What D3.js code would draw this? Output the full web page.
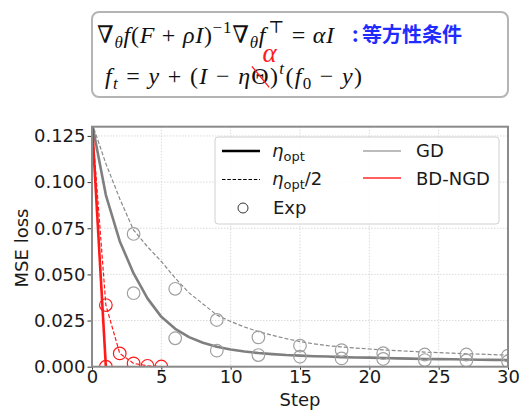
<!DOCTYPE html>
<html><head><meta charset="utf-8">
<script src="https://cdn.jsdelivr.net/npm/d3@7"></script>
<style>html,body{margin:0;padding:0;background:#fff;}svg{display:block;}</style>
</head><body>
<svg id="c" width="521" height="410"></svg>
<script>
// ---------- data ----------
const stepsGD = [0,1,2,3,4,5,6,7,8,9,10,11,12,13,14,15,16,17,18,19,20,21,22,23,24,25,26,27,28,29,30];
const gdEta   = [0.132,0.093,0.068,0.0505,0.037,0.027,0.0205,0.016,0.0130,0.0108,0.0093,0.0082,0.0074,0.0068,0.0063,0.0060,0.0057,0.0055,0.0052,0.0050,0.0049,0.0047,0.0045,0.0044,0.0042,0.0041,0.0040,0.0039,0.0038,0.0037,0.0036];
const gdHalf  = [0.132,0.110,0.091,0.074,0.065,0.057,0.048,0.040,0.034,0.028,0.0245,0.0215,0.019,0.017,0.0152,0.0136,0.0124,0.0114,0.0107,0.0101,0.0096,0.0091,0.0087,0.0083,0.0079,0.0076,0.0073,0.0070,0.0068,0.0065,0.0063];
const expSteps   = [3,6,9,12,15,18,21,24,27,30];
const expGdEta   = [0.0398,0.0154,0.0087,0.0063,0.0054,0.0045,0.0042,0.0036,0.0034,0.0029];
const expGdHalf  = [0.0719,0.0422,0.0253,0.0159,0.0114,0.0090,0.0073,0.0066,0.0066,0.0060];
const ngdEtaSteps  = [0,1];
const ngdEta       = [0.132,0];
const ngdHalfSteps = [0,1,2,3,4,5];
const ngdHalf      = [0.132,0.0334,0.0072,0.0018,0.0005,0.0001];
const expNgdEtaSteps  = [1];
const expNgdEta       = [0];
const expNgdHalfSteps = [1,2,3,4,5];
const expNgdHalf      = [0.0334,0.0072,0.0018,0.0005,0.0001];
const xTicks = [0,5,10,15,20,25,30];
const yTicks = [0,0.025,0.05,0.075,0.1,0.125];
const yTickLabels = ["0.000","0.025","0.050","0.075","0.100","0.125"];
const xLabel = "Step", yLabel = "MSE loss";
const noteText = "等方性条件";

// ---------- layout ----------
const svg = d3.select("#c");
const L = 92, R = 508, T = 126.7, B = 366.7;
const x = d3.scaleLinear().domain([0,30]).range([L,R]);
const y = d3.scaleLinear().domain([0,0.13]).range([B,T]);
const FONT = "'DejaVu Sans', sans-serif";
const GRAY = "#7f7f7f", RED = "#ff1a1a";

svg.append("defs").append("clipPath").attr("id","clip")
  .append("rect").attr("x",L).attr("y",T).attr("width",R-L).attr("height",B-T);

// ---------- formula box ----------
svg.append("rect").attr("x",92).attr("y",12).attr("width",416).attr("height",85)
  .attr("rx",7).attr("fill","#fff").attr("stroke","#b4b4b4").attr("stroke-width",2);

const MF = "'Liberation Serif', 'DejaVu Serif', serif";
function mathRow(items, x0, base, width){
  const t = svg.append("text").attr("x",x0).attr("y",base).attr("font-family",MF).attr("fill","#111");
  let cur = 0;
  items.forEach(([s,kind,it,dx])=>{
    const target = kind==="sub" ? 5 : kind==="sup" ? -10 : 0;
    const sp = t.append("tspan").attr("dy", target-cur).attr("font-size", kind==="n" ? 24 : 17)
      .attr("font-style", it ? "italic" : "normal").text(s);
    if(dx) sp.attr("dx",dx);
    cur = target;
  });
  t.attr("textLength", width).attr("lengthAdjust","spacing");
  return t;
}
mathRow([
  ["∇","n",0],["θ","sub",1],["f","n",1],["(","n",0],["F","n",1],[" + ","n",0],["ρ","n",1],["I","n",1],
  [")","n",0],["−1","sup",0],["∇","n",0],["θ","sub",1],["f","n",1],["⊤","sup",0,2],[" = ","n",0],
  ["α","n",1],["I","n",1]
], 97, 43, 237);
const blue = svg.append("text").attr("x",352).attr("y",42).attr("font-family","'Noto Sans CJK JP', sans-serif")
  .attr("font-weight","bold").attr("font-size",20).attr("fill","#1f2bff");
blue.append("tspan").text(":");
blue.append("tspan").attr("x",362).text(noteText);

const row2 = mathRow([
  ["f","n",1],["t","sub",1],[" = ","n",0],["y","n",1],[" + ","n",0],["(","n",0],["I","n",1],[" − ","n",0],
  ["η","n",1],["Θ","n",0],[")","n",0],["t","sup",1],["(","n",0],["f","n",1],["0","sub",0],[" − ","n",0],
  ["y","n",1],[")","n",0]
], 105, 84, 257);
// strike-through on Θ and the red replacement α above it
const full = row2.text();
const box = row2.node().getExtentOfChar(full.indexOf("Θ"));
const sx0 = box.x + 0.5, sx1 = box.x + box.width + 0.5;
svg.append("line").attr("x1",sx0).attr("y1",66.3).attr("x2",sx1).attr("y2",87.3)
  .attr("stroke",RED).attr("stroke-width",1.3);
svg.append("text").attr("x",(sx0+sx1)/2 + 9).attr("y",62).attr("text-anchor","middle")
  .attr("font-family",MF).attr("font-style","italic")
  .attr("font-size",27).attr("fill",RED).text("α");

// ---------- grid ----------
const g = svg.append("g");
g.selectAll(".gx").data(xTicks.slice(1,-1)).join("line")
  .attr("x1",d=>x(d)).attr("x2",d=>x(d)).attr("y1",T).attr("y2",B)
  .attr("stroke","#d6d6d6").attr("stroke-width",0.9).attr("stroke-dasharray","1.5,1.5");
g.selectAll(".gy").data(yTicks.slice(1)).join("line")
  .attr("y1",d=>y(d)).attr("y2",d=>y(d)).attr("x1",L).attr("x2",R)
  .attr("stroke","#d6d6d6").attr("stroke-width",0.9).attr("stroke-dasharray","1.5,1.5");

// ---------- lines ----------
const plot = svg.append("g").attr("clip-path","url(#clip)");
const line = d3.line().x(d=>x(d[0])).y(d=>y(d[1]));
const zip = (a,b)=>a.map((v,i)=>[v,b[i]]);
plot.append("path").attr("d",line(zip(stepsGD,gdHalf))).attr("fill","none")
  .attr("stroke","#8a8a8a").attr("stroke-width",1.2).attr("stroke-dasharray","4,2");
plot.append("path").attr("d",line(zip(stepsGD,gdEta))).attr("fill","none")
  .attr("stroke",GRAY).attr("stroke-width",2.6).attr("stroke-linejoin","round");
plot.append("path").attr("d",line(zip(ngdHalfSteps,ngdHalf))).attr("fill","none")
  .attr("stroke",RED).attr("stroke-width",1.2).attr("stroke-dasharray","4,2");
plot.append("path").attr("d",line(zip(ngdEtaSteps,ngdEta))).attr("fill","none")
  .attr("stroke",RED).attr("stroke-width",2.6);

function circles(sx, sy, col){
  plot.append("g").selectAll("circle").data(zip(sx,sy)).join("circle")
    .attr("cx",d=>x(d[0])).attr("cy",d=>y(d[1])).attr("r",6.3)
    .attr("fill","none").attr("stroke",col).attr("stroke-width",1.2);
}
circles(expSteps, expGdEta, "#a0a0a0");
circles(expSteps, expGdHalf, "#a0a0a0");
circles(expNgdHalfSteps, expNgdHalf, RED);
circles(expNgdEtaSteps, expNgdEta, RED);

// ---------- legend ----------
const lg = svg.append("g");
lg.append("rect").attr("x",215).attr("y",137).attr("width",284).attr("height",87).attr("rx",3)
  .attr("fill","#fff").attr("fill-opacity",0.85).attr("stroke","#d0d0d0").attr("stroke-width",1);
lg.append("line").attr("x1",222).attr("x2",260).attr("y1",151).attr("y2",151).attr("stroke","#000").attr("stroke-width",2.4);
lg.append("line").attr("x1",222).attr("x2",260).attr("y1",179.5).attr("y2",179.5).attr("stroke","#000").attr("stroke-width",1).attr("stroke-dasharray","3.5,1.8");
lg.append("circle").attr("cx",243).attr("cy",208).attr("r",5).attr("fill","none").attr("stroke","#333").attr("stroke-width",1);
lg.append("line").attr("x1",363).attr("x2",401).attr("y1",151).attr("y2",151).attr("stroke","#a6a6a6").attr("stroke-width",1.5);
lg.append("line").attr("x1",363).attr("x2",401).attr("y1",178).attr("y2",178).attr("stroke","#ff2a2a").attr("stroke-width",1.5);
function etaLabel(px, py, suffix){
  const t = lg.append("text").attr("x",px).attr("y",py).attr("font-family",FONT).attr("font-size",18).attr("fill","#1a1a1a");
  t.append("tspan").attr("font-style","italic").text("η");
  t.append("tspan").attr("font-size",13).attr("dy",4).text("opt");
  if(suffix) t.append("tspan").attr("dy",-4).text(suffix);
}
etaLabel(272, 157, "");
etaLabel(272, 185, "/2");
lg.append("text").attr("x",273).attr("y",213.5).attr("font-family",FONT).attr("font-size",18).attr("fill","#1a1a1a").text("Exp");
lg.append("text").attr("x",416).attr("y",157).attr("font-family",FONT).attr("font-size",18).attr("fill","#1a1a1a").text("GD");
lg.append("text").attr("x",416).attr("y",185).attr("font-family",FONT).attr("font-size",18).attr("fill","#1a1a1a").text("BD-NGD");

// ---------- axes ----------
const xa = svg.append("g").attr("transform",`translate(0,${B})`)
  .call(d3.axisBottom(x).tickValues(xTicks).tickSize(3).tickPadding(1).tickFormat(d3.format("d")));
const ya = svg.append("g").attr("transform",`translate(${L},0)`)
  .call(d3.axisLeft(y).tickValues(yTicks).tickSize(4.5).tickPadding(2).tickFormat((d,i)=>yTickLabels[i]));
[xa,ya].forEach(a=>{
  a.select(".domain").remove();
  a.selectAll(".tick line").attr("stroke","#333");
  a.selectAll("text").attr("font-family",FONT).attr("font-size",18).attr("fill","#1a1a1a");
});
svg.append("rect").attr("x",L).attr("y",T).attr("width",R-L).attr("height",B-T)
  .attr("fill","none").attr("stroke","#8a8a8a").attr("stroke-width",2);

svg.append("text").attr("x",(L+R)/2).attr("y",406).attr("text-anchor","middle")
  .attr("font-family",FONT).attr("font-size",18).attr("fill","#1a1a1a").text(xLabel);
svg.append("text").attr("transform","translate(28,248) rotate(-90)").attr("text-anchor","middle")
  .attr("font-family",FONT).attr("font-size",18).attr("fill","#1a1a1a").text(yLabel);
</script>
</body></html>
